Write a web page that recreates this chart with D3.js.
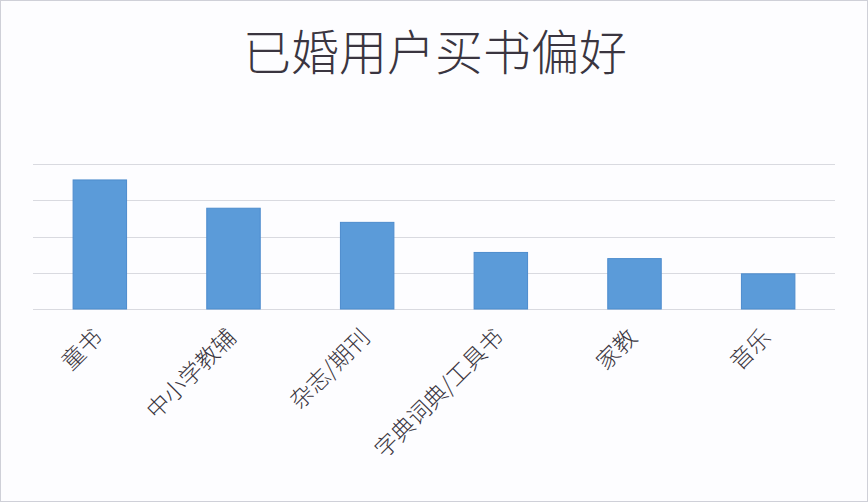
<!DOCTYPE html>
<html lang="zh">
<head>
    <meta charset="UTF-8">
    <title>已婚用户买书偏好</title>
    <script src="https://d3js.org/d3.v7.min.js"></script>
    <style>
        body {
            margin: 0;
            background-color: #fff;
        }
        svg {
            display: block;
            font-family: "Noto Sans CJK SC", "Noto Sans", sans-serif;
        }
        .grid line {
            stroke: #d9dae0;
            stroke-width: 1;
        }
        .bar {
            fill: #5b9bd9;
            stroke: #4d8ccd;
            stroke-width: 1;
        }
        .title {
            fill: #3a3540;
            font-size: 48px;
            font-weight: 300;
        }
        .xlabel {
            fill: #3a3540;
            font-size: 23px;
            font-weight: 300;
        }
    </style>
</head>
<body>
    <svg id="chart" width="868" height="502"></svg>
    <script>
        // 数据
        const categories = ["童书", "中小学教辅", "杂志/期刊", "字典词典/工具书", "家教", "音乐"];
        const values = [35.6, 27.8, 23.9, 15.6, 13.9, 9.7];
        const gridTicks = [0, 10, 20, 30, 40];

        const svg = d3.select("#chart"),
              width = +svg.attr("width"),
              height = +svg.attr("height");

        const margin = {top: 164, right: 33, bottom: 193, left: 33};
        const plotW = width - margin.left - margin.right,
              plotH = height - margin.top - margin.bottom;

        // 背景和边框
        svg.append("rect")
            .attr("x", 0.5).attr("y", 0.5)
            .attr("width", width - 1).attr("height", height - 1)
            .attr("fill", "#fdfdff")
            .attr("stroke", "#cfd0d8");

        svg.append("text")
            .attr("class", "title")
            .attr("x", 435)
            .attr("y", 70)
            .attr("text-anchor", "middle")
            .text("已婚用户买书偏好");

        const g = svg.append("g")
            .attr("transform", `translate(${margin.left}, ${margin.top})`);

        const x = d3.scaleBand()
            .domain(categories)
            .range([0, plotW])
            .paddingInner(0.6)
            .paddingOuter(0.3);

        const y = d3.scaleLinear()
            .domain([0, 40])
            .range([plotH, 0]);

        // 网格线
        g.append("g")
            .attr("class", "grid")
            .selectAll("line")
            .data(gridTicks)
            .join("line")
            .attr("x1", 0)
            .attr("x2", plotW)
            .attr("y1", d => Math.round(y(d)) + 0.5)
            .attr("y2", d => Math.round(y(d)) + 0.5);

        // 柱子
        g.selectAll(".bar")
            .data(values)
            .join("rect")
            .attr("class", "bar")
            .attr("x", (d, i) => x(categories[i]))
            .attr("y", d => y(d))
            .attr("width", x.bandwidth())
            .attr("height", d => plotH - y(d));

        // 类别标签 (斜45度)
        g.selectAll(".xlabel")
            .data(categories)
            .join("text")
            .attr("class", "xlabel")
            .attr("text-anchor", "end")
            .attr("transform", d => `translate(${x(d) + x.bandwidth() / 2 + 4}, ${plotH + 30}) rotate(-45)`)
            .text(d => d);
    </script>
</body>
</html>
